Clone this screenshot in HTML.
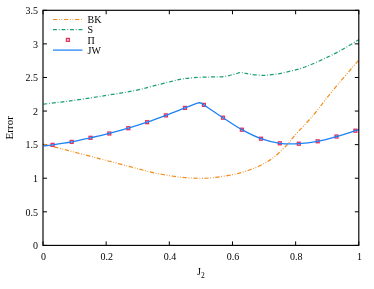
<!DOCTYPE html><html><head><meta charset="utf-8"><style>html,body{margin:0;padding:0;background:#fff}body{width:374px;height:289px;overflow:hidden;font-family:"Liberation Serif",serif}</style></head><body><svg width="374" height="289" viewBox="0 0 374 289" style="display:block;will-change:transform;opacity:0.999">
<g font-family="Liberation Serif, serif" font-size="10" fill="#000">
<text x="38" y="249.20" text-anchor="end">0</text>
<text x="38" y="215.61" text-anchor="end">0.5</text>
<text x="38" y="182.03" text-anchor="end">1</text>
<text x="38" y="148.44" text-anchor="end">1.5</text>
<text x="38" y="114.86" text-anchor="end">2</text>
<text x="38" y="81.27" text-anchor="end">2.5</text>
<text x="38" y="47.69" text-anchor="end">3</text>
<text x="38" y="14.10" text-anchor="end">3.5</text>
<text x="43.60" y="260.2" text-anchor="middle">0</text>
<text x="106.76" y="260.2" text-anchor="middle">0.2</text>
<text x="169.92" y="260.2" text-anchor="middle">0.4</text>
<text x="233.08" y="260.2" text-anchor="middle">0.6</text>
<text x="296.24" y="260.2" text-anchor="middle">0.8</text>
<text x="359.40" y="260.2" text-anchor="middle">1</text>
<path d="M43.00 245.40 h4 M358.80 245.40 h-4 M43.00 211.81 h4 M358.80 211.81 h-4 M43.00 178.23 h4 M358.80 178.23 h-4 M43.00 144.64 h4 M358.80 144.64 h-4 M43.00 111.06 h4 M358.80 111.06 h-4 M43.00 77.47 h4 M358.80 77.47 h-4 M43.00 43.89 h4 M358.80 43.89 h-4 M43.00 10.30 h4 M358.80 10.30 h-4 M43.00 245.40 v-4 M43.00 10.30 v4 M106.16 245.40 v-4 M106.16 10.30 v4 M169.32 245.40 v-4 M169.32 10.30 v4 M232.48 245.40 v-4 M232.48 10.30 v4 M295.64 245.40 v-4 M295.64 10.30 v4 M358.80 245.40 v-4 M358.80 10.30 v4" stroke="#000" stroke-width="1" fill="none"/>
<path d="M43.50 144.10 C47.92 145.25 60.58 148.55 70.00 151.00 C79.42 153.45 90.00 156.18 100.00 158.80 C110.00 161.42 120.83 164.33 130.00 166.70 C139.17 169.07 146.67 171.27 155.00 173.00 C163.33 174.73 172.33 176.22 180.00 177.10 C187.67 177.98 195.58 178.22 201.00 178.30 C206.42 178.38 208.50 177.98 212.50 177.60 C216.50 177.22 220.80 176.68 225.00 176.00 C229.20 175.32 233.53 174.55 237.70 173.50 C241.87 172.45 245.82 171.25 250.00 169.70 C254.18 168.15 258.63 166.42 262.80 164.20 C266.97 161.98 270.82 159.78 275.00 156.40 C279.18 153.02 284.73 147.25 287.90 143.90 C291.07 140.55 289.65 141.22 294.00 136.30 C298.35 131.38 307.75 121.78 314.00 114.40 C320.25 107.02 324.00 101.12 331.50 92.00 C339.00 82.88 354.42 65.08 359.00 59.70" stroke="#F28C1A" stroke-width="1.2" fill="none" stroke-dasharray="4.3 1.7 0.8 1.7 0.8 1.7"/>
<path d="M43.50 104.20 C47.92 103.65 60.58 102.20 70.00 100.90 C79.42 99.60 89.33 98.10 100.00 96.40 C110.67 94.70 124.00 92.72 134.00 90.70 C144.00 88.68 152.33 86.18 160.00 84.30 C167.67 82.42 174.50 80.50 180.00 79.40 C185.50 78.30 188.00 78.10 193.00 77.70 C198.00 77.30 204.83 77.20 210.00 77.00 C215.17 76.80 220.00 76.95 224.00 76.50 C228.00 76.05 231.10 74.95 234.00 74.30 C236.90 73.65 238.73 72.62 241.40 72.60 C244.07 72.58 246.45 73.73 250.00 74.20 C253.55 74.67 259.03 75.33 262.70 75.40 C266.37 75.47 268.65 75.02 272.00 74.60 C275.35 74.18 277.30 74.17 282.80 72.90 C288.30 71.63 297.13 69.83 305.00 67.00 C312.87 64.17 323.33 59.07 330.00 55.90 C336.67 52.73 340.17 50.72 345.00 48.00 C349.83 45.28 356.67 41.00 359.00 39.60" stroke="#1B9E77" stroke-width="1.25" fill="none" stroke-dasharray="3.9 1.9 0.8 1.9"/>
<rect x="51.15" y="143.45" width="2.9" height="2.9" fill="none" stroke="#E2365E" stroke-width="1.35"/>
<rect x="70.25" y="140.45" width="2.9" height="2.9" fill="none" stroke="#E2365E" stroke-width="1.35"/>
<rect x="89.05" y="136.35" width="2.9" height="2.9" fill="none" stroke="#E2365E" stroke-width="1.35"/>
<rect x="107.85" y="132.05" width="2.9" height="2.9" fill="none" stroke="#E2365E" stroke-width="1.35"/>
<rect x="126.85" y="126.75" width="2.9" height="2.9" fill="none" stroke="#E2365E" stroke-width="1.35"/>
<rect x="145.65" y="120.75" width="2.9" height="2.9" fill="none" stroke="#E2365E" stroke-width="1.35"/>
<rect x="164.45" y="113.95" width="2.9" height="2.9" fill="none" stroke="#E2365E" stroke-width="1.35"/>
<rect x="183.55" y="106.45" width="2.9" height="2.9" fill="none" stroke="#E2365E" stroke-width="1.35"/>
<rect x="202.45" y="103.45" width="2.9" height="2.9" fill="none" stroke="#E2365E" stroke-width="1.35"/>
<rect x="221.55" y="116.25" width="2.9" height="2.9" fill="none" stroke="#E2365E" stroke-width="1.35"/>
<rect x="240.45" y="128.25" width="2.9" height="2.9" fill="none" stroke="#E2365E" stroke-width="1.35"/>
<rect x="259.55" y="137.25" width="2.9" height="2.9" fill="none" stroke="#E2365E" stroke-width="1.35"/>
<rect x="278.35" y="141.85" width="2.9" height="2.9" fill="none" stroke="#E2365E" stroke-width="1.35"/>
<rect x="297.35" y="142.25" width="2.9" height="2.9" fill="none" stroke="#E2365E" stroke-width="1.35"/>
<rect x="316.25" y="139.85" width="2.9" height="2.9" fill="none" stroke="#E2365E" stroke-width="1.35"/>
<rect x="335.05" y="135.05" width="2.9" height="2.9" fill="none" stroke="#E2365E" stroke-width="1.35"/>
<rect x="353.95" y="129.25" width="2.9" height="2.9" fill="none" stroke="#E2365E" stroke-width="1.35"/>
<path d="M43.50 145.90 C45.02 145.73 47.90 145.57 52.60 144.90 C57.30 144.23 65.38 143.08 71.70 141.90 C78.02 140.72 84.23 139.22 90.50 137.80 C96.77 136.38 103.00 135.00 109.30 133.40 C115.60 131.80 122.00 130.07 128.30 128.20 C134.60 126.33 140.83 124.33 147.10 122.20 C153.37 120.07 159.58 117.78 165.90 115.40 C172.22 113.02 179.77 109.93 185.00 107.90 C190.23 105.87 195.25 103.98 197.30 103.20 Q200.6 101.8 203.90 104.90 C207.08 107.03 216.67 113.57 223.00 117.70 C229.33 121.83 235.57 126.20 241.90 129.70 C248.23 133.20 254.68 136.43 261.00 138.70 C267.32 140.97 273.50 142.47 279.80 143.30 C286.10 144.13 292.48 144.03 298.80 143.70 C305.12 143.37 311.42 142.50 317.70 141.30 C323.98 140.10 330.22 138.27 336.50 136.50 C342.78 134.73 351.65 131.85 355.40 130.70 C359.15 129.55 358.40 129.78 359.00 129.60" stroke="#1E82F5" stroke-width="1.35" fill="none" stroke-linejoin="round"/>
<rect x="43.0" y="10.3" width="315.8" height="235.1" fill="none" stroke="#000" stroke-width="1.15"/>
<path d="M53 19.5H82.4" stroke="#F28C1A" stroke-width="1.2" stroke-dasharray="4.3 1.7 0.8 1.7 0.8 1.7"/>
<path d="M53 29.6H82.4" stroke="#1B9E77" stroke-width="1.25" stroke-dasharray="3.9 1.9 0.8 1.9"/>
<rect x="66.45" y="38.45" width="2.9" height="2.9" fill="none" stroke="#E2365E" stroke-width="1.35"/>
<path d="M53 50.1H82.4" stroke="#1E82F5" stroke-width="1.25"/>
<text x="87.5" y="23.3">BK</text>
<text x="87.5" y="33.4">S</text>
<text x="87.5" y="43.5">Π</text>
<text x="87.5" y="53.7">JW</text>
<text x="197" y="274.8">J<tspan font-size="7.5" dy="2.8">2</tspan></text>
<text transform="translate(13.3 139.4) rotate(-90)" textLength="23.2" lengthAdjust="spacingAndGlyphs">Error</text>
</g></svg></body></html>
